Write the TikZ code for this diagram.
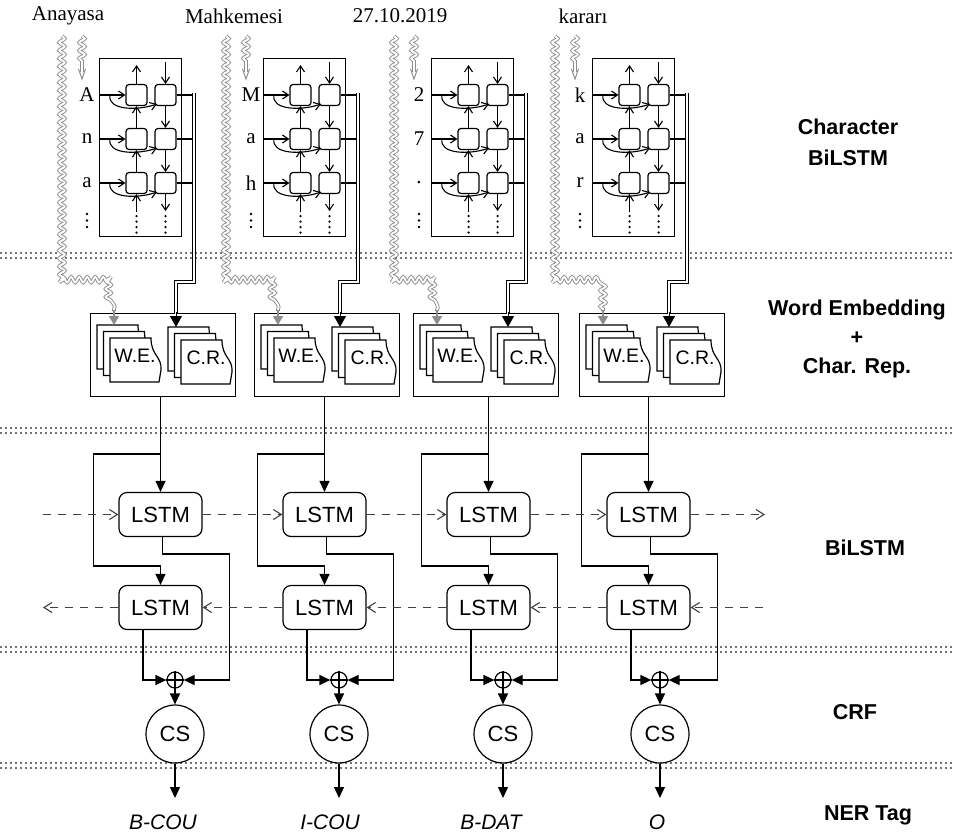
\documentclass[tikz,border=0pt]{standalone}
\usepackage{fontspec}
\setmainfont{Liberation Serif}
\setsansfont{Liberation Sans}
\usetikzlibrary{arrows.meta,decorations.pathmorphing,calc}
\newcommand\mysheet[2]{\draw[sheet] (#1,#2) -- (#1+41,#2) .. controls (#1+41,#2+18) and (#1+52,#2+18) .. (#1+51,#2+32) -- (#1+49,#2+44) -- (#1,#2+44) -- cycle;}
\begin{document}
\begin{tikzpicture}[x=1pt,y=-1pt,
  cell/.style={draw, line width=1.2pt, rounded corners=3pt, minimum width=21pt, minimum height=21pt, inner sep=0pt},
  oarr/.style={line width=1.1pt, -{Straight Barb[length=6pt,width=8pt]}},
  farr/.style={line width=1.2pt, -{Triangle[length=11pt,width=10pt]}},
  lstm/.style={draw, line width=1.2pt, rounded corners=8pt, minimum width=83pt, minimum height=44pt, inner sep=0pt, font=\sffamily\fontsize{22}{22}\selectfont},
  dsh/.style={line width=1.1pt, draw=black!75, dash pattern=on 8pt off 7pt, -{Straight Barb[length=8pt,width=10pt]}},
  sep/.style={line width=1.6pt, draw=black!55, dash pattern=on 1.6pt off 3.4pt},
  wave/.style={draw=black!45, line width=0.9pt, double=white, double distance=1.8pt, decorate, decoration={snake, amplitude=2.8pt, segment length=8pt}},
  lbl/.style={font=\sffamily\bfseries\fontsize{21.5}{31}\selectfont, align=center},
  word/.style={font=\fontsize{21}{21}\selectfont, inner sep=0pt},
  letter/.style={font=\fontsize{21}{21}\selectfont, inner sep=0pt},
  tag/.style={font=\sffamily\itshape\fontsize{21}{21}\selectfont, inner sep=0pt},
  sheet/.style={draw, fill=white, line width=1.2pt},
  box/.style={draw, line width=1.2pt, anchor=north west, inner sep=0pt},
  txt/.style={font=\sffamily\fontsize{19.5}{19.5}\selectfont, inner sep=0pt}
]
\useasboundingbox (0,0) rectangle (955,833);
\fill[white] (0,0) rectangle (955,833);

% separators
\foreach \y in {253,258,428,433,647,652,763,768} \draw[sep] (0,\y) -- (955,\y);

\foreach \i/\X/\W/\c/\s/\lx/\wrd/\la/\lb/\lc/\tg/\tx in {
 1/99/90/160.5/175/68/Anayasa/A/n/a/B-COU/163,
 2/263/254/324.5/339/234/Mahkemesi/M/a/h/I-COU/330,
 3/431/413/488.5/503/400/27.10.2019/2/7/./B-DAT/491,
 4/592/579/648.5/660/583/kararı/k/a/r/O/657}{
  % word label
  \node[word] (w\i) at (\lx,16) {\wrd};
  % char box
  \node[box, minimum width=82pt, minimum height=178pt] (cb\i) at (\X,58) {};
  \node[cell] (a\i1) at (\X+37.5,95) {};
  \node[cell] (b\i1) at (\X+66.5,95) {};
  \node[cell] (a\i2) at (\X+37.5,139) {};
  \node[cell] (b\i2) at (\X+66.5,139) {};
  \node[cell] (a\i3) at (\X+37.5,183) {};
  \node[cell] (b\i3) at (\X+66.5,183) {};
  \node[letter] (l\i1) at (\X-12,95) {\la};
  \node[letter] (l\i2) at (\X-12,139) {\lb};
  \node[letter] (l\i3) at (\X-12,183) {\lc};
  \foreach \d in {0,1,2} \fill (\X-12,214+6.5*\d) circle (1.3pt);
  \foreach \d in {0,1,2,3} {\fill (\X+37.5,216+5.5*\d) circle (1.25pt); \fill (\X+66.5,216+5.5*\d) circle (1.25pt);}
  \foreach \r/\y in {1/95,2/139,3/183} {
    \draw[oarr] (cb\i.west |- a\i\r) -- (a\i\r.west);
    \draw[oarr] (\X+11,\y) .. controls (\X+8,\y+15) and (\X+38,\y+16) .. (\X+58,\y+9);
    \draw[line width=1.2pt] (b\i\r.east) -- ++(17,0);
  }
  \draw[oarr] (\X+37.5,212) -- (a\i3.south);
  \draw[oarr] (a\i3.north) -- (a\i2.south);
  \draw[oarr] (a\i2.north) -- (a\i1.south);
  \draw[oarr] (a\i1.north) -- (\X+37.5,65);
  \draw[oarr] (\X+66.5,62) -- (b\i1.north);
  \draw[oarr] (b\i1.south) -- (b\i2.north);
  \draw[oarr] (b\i2.south) -- (b\i3.north);
  \draw[oarr] (b\i3.south) -- (\X+66.5,211);
  % WE / CR box
  \node[box, minimum width=145pt, minimum height=83pt] (wb\i) at (\W,313) {};
  \foreach \k in {0,1,2} {\mysheet{\W+7+6.5*\k}{325+6.5*\k}}
  \node[txt] (we\i) at (\W+45,356) {W.E.};
  \foreach \k in {0,1,2} {\mysheet{\W+78+6.5*\k}{327+6.5*\k}}
  \node[txt] (cr\i) at (\W+116,358) {C.R.};
  % double line from char box
  \draw[line width=1.1pt, double=white, double distance=2.6pt] (\X+95,93) -- (\X+95,282) -- (\X+77,282) -- (\X+77,314);
  \coordinate (crt\i) at (\X+77,327);
  \draw[line width=1pt, -{Triangle[length=11pt,width=12pt]}] (\X+77,312) -- (crt\i);
  % wavy word-embedding input
  \coordinate (wet\i) at (\W+24,325);
  \draw[wave] (\X-37,36) -- (\X-37,280) -- (\W+24,280) -- (\W+24,311);
  \draw[black!45, line width=1.5pt, -{Triangle[length=9pt,width=10pt]}] (\W+24,310) -- (wet\i);
  \draw[wave] (\X-17,36) -- (\X-17,64);
  \draw[black!45, line width=0.9pt, double=white, double distance=1.8pt] (\X-17,63) -- (\X-17,72);
  \draw[black!45, line width=1pt] (\X-20.5,69) -- (\X-17,79) -- (\X-13.5,69);
  % LSTM
  \node[lstm] (up\i) at (\c,514.5) {LSTM};
  \node[lstm] (lo\i) at (\c,607.5) {LSTM};
  \node[circle, draw, line width=1.2pt, minimum size=16pt, inner sep=0pt] (op\i) at (\s,680) {};
  \draw[line width=1.2pt] (op\i.north) -- (op\i.south) (op\i.west) -- (op\i.east);
  \node[circle, draw, line width=1.2pt, minimum size=58pt, inner sep=0pt, font=\sffamily\fontsize{22}{22}\selectfont] (cs\i) at (\s,734) {CS};
  \draw[farr] (up\i.north |- wb\i.south) -- (up\i.north);
  \draw[farr] (\c,454) -- (\c-67,454) -- (\c-67,566) -- (\c,566) -- (lo\i.north);
  \draw[farr] ($(up\i.south)+(2,0)$) -- (\c+2,554) -- (\c+69,554) -- (\c+69,680) -- (op\i.east);
  \draw[farr] ($(lo\i.south)+(-17.5,0)$) -- (\c-17.5,680) -- (op\i.west);
  \draw[farr] (op\i.south) -- (cs\i.north);
  \coordinate (tt\i) at (\s,798);
  \draw[farr] (cs\i.south) -- (tt\i);
  \node[tag] (tag\i) at (\tx,822) {\tg};
}

% dashed recurrent connections
\coordinate (ul) at (43,514.5);
\coordinate (ur) at (765,514.5);
\coordinate (ll) at (43,607.5);
\coordinate (lr) at (763,607.5);
\draw[dsh] (ul) -- (up1.west);
\draw[dsh] (up1.east) -- (up2.west);
\draw[dsh] (up2.east) -- (up3.west);
\draw[dsh] (up3.east) -- (up4.west);
\draw[dsh] (up4.east) -- (ur);
\draw[dsh] (lr) -- (lo4.east);
\draw[dsh] (lo4.west) -- (lo3.east);
\draw[dsh] (lo3.west) -- (lo2.east);
\draw[dsh] (lo2.west) -- (lo1.east);
\draw[dsh] (lo1.west) -- (ll);

% layer labels
\node[lbl] (L1) at (848,142) {Character\\BiLSTM};
\node[lbl, font=\sffamily\bfseries\fontsize{21.5}{29}\selectfont] (L2) at (857,339) {Word Embedding\\+\\Char. Rep.};
\node[lbl] (L3) at (865,548) {BiLSTM};
\node[lbl] (L4) at (855,712) {CRF};
\node[lbl] (L5) at (868,815) {NER Tag};
\end{tikzpicture}
\end{document}
